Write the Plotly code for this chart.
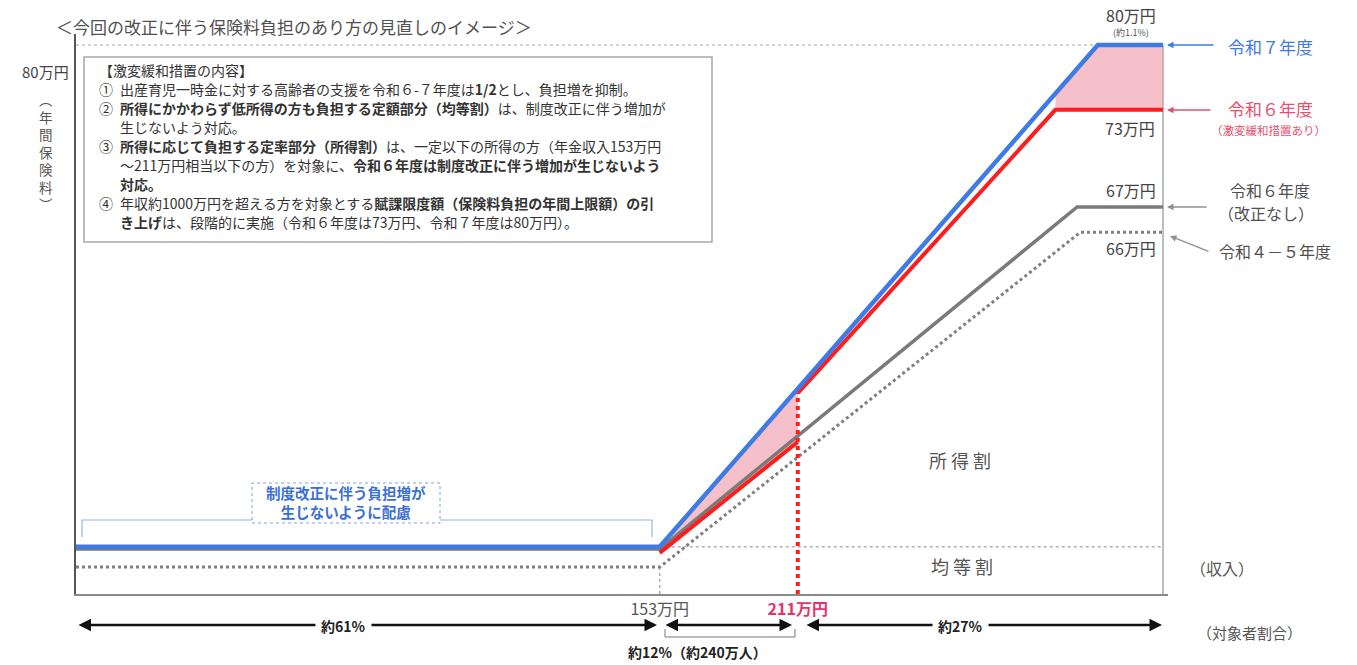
import numpy as np
import plotly.graph_objects as go

W, H = 1357, 665
FONT = "Noto Sans CJK JP"

# ---- data (conceptual scale: x = income position 0-100, y = premium level, 100 = 80万円) ----
x_r7 = [0, 53.7, 94.0, 100]          # 令和7年度
y_r7 = [8.6, 8.6, 100, 100]
x_r6 = [53.7, 66.4, 66.4, 90.1, 100]  # 令和6年度（激変緩和措置あり）
y_r6 = [7.5, 27.7, 36.6, 88.2, 88.2]
x_r6n = [0, 53.7, 92.1, 100]          # 令和6年度（改正なし）
y_r6n = [8.2, 8.2, 70.5, 70.5]
x_r45 = [0, 53.7, 92.4, 100]          # 令和4-5年度
y_r45 = [4.9, 4.9, 65.9, 65.9]

x_153 = 53.7
x_211 = 66.4
tick_vals = [x_153, x_211]
tick_text = ["153万円", "<b><span style='color:#e8336a'>211万円</span></b>"]

BLUE = "#3f7be6"
RED = "#ff1c1c"
GRAY = "#7a7a7a"
PINK = "rgba(238,140,160,0.55)"

fig = go.Figure()

# reference lines
fig.add_trace(go.Scatter(x=[0, 100], y=[100, 100], mode="lines",
                         line=dict(color="#c4c4c4", width=1.5, dash="dot")))
fig.add_trace(go.Scatter(x=[x_153, 100], y=[y_r7[1], y_r7[1]], mode="lines",
                         line=dict(color="#b0b0b0", width=1.5, dash="dot")))
fig.add_trace(go.Scatter(x=[x_153, x_153], y=[0, y_r45[1]], mode="lines",
                         line=dict(color="#b0b0b0", width=1.5, dash="dot")))
fig.add_trace(go.Scatter(x=[100, 100], y=[0, 100], mode="lines",
                         line=dict(color="#a8a8a8", width=1.5)))

# pink fills between 令和7 and 令和6 (激変緩和)
seg1_x = np.array(x_r6[0:2])
seg1_bot = np.array(y_r6[0:2])
seg1_top = np.interp(seg1_x, x_r7, y_r7)
fig.add_trace(go.Scatter(x=list(seg1_x) + list(seg1_x[::-1]),
                         y=list(seg1_top) + list(seg1_bot[::-1]),
                         mode="lines", fill="toself", fillcolor=PINK,
                         line=dict(width=0)))
seg2_x = np.array([x_r6[3]] + [v for v in x_r7 if v > x_r6[3]])
seg2_top = np.interp(seg2_x, x_r7, y_r7)
seg2_bot = np.interp(seg2_x, x_r6[3:], y_r6[3:])
fig.add_trace(go.Scatter(x=list(seg2_x) + list(seg2_x[::-1]),
                         y=list(seg2_top) + list(seg2_bot[::-1]),
                         mode="lines", fill="toself", fillcolor=PINK,
                         line=dict(width=0)))

# series lines
fig.add_trace(go.Scatter(x=x_r45, y=y_r45, mode="lines",
                         line=dict(color="#7f7f7f", width=3, dash="dot")))
fig.add_trace(go.Scatter(x=x_r6n, y=y_r6n, mode="lines",
                         line=dict(color=GRAY, width=3.5)))
# red line drawn in two pieces (the step at 211万円 is shown by the dotted line)
red_x = x_r6[:2] + [None] + x_r6[2:]
red_y = y_r6[:2] + [None] + y_r6[2:]
fig.add_trace(go.Scatter(x=red_x, y=red_y, mode="lines", connectgaps=False,
                         line=dict(color=RED, width=4)))
fig.add_trace(go.Scatter(x=[x_211, x_211], y=[0, y_r6[2]], mode="lines",
                         line=dict(color=RED, width=4, dash="dot")))
fig.add_trace(go.Scatter(x=x_r7, y=y_r7, mode="lines",
                         line=dict(color=BLUE, width=4.5)))


def P(x, y):
    return x / W, 1 - y / H


def T(text, x, y, size=14, color="#444", xanchor="center", **kw):
    px, py = P(x, y)
    d = dict(text=text, x=px, y=py, xref="paper", yref="paper", xanchor=xanchor,
             yanchor="middle", showarrow=False, borderpad=0,
             font=dict(size=size, color=color, family=FONT))
    d.update(kw)
    return d


def A(xh, yh, xt, yt, color, width, both=False):
    px, py = P(xh, yh)
    return dict(x=px, y=py, xref="paper", yref="paper", ax=xt - xh, ay=yt - yh,
                axref="pixel", ayref="pixel", text="", showarrow=True,
                arrowhead=2, startarrowhead=2, arrowsize=1, startarrowsize=1,
                arrowwidth=width, arrowcolor=color,
                arrowside="end+start" if both else "end",
                standoff=0, startstandoff=0)


ann = []
ann.append(T("＜今回の改正に伴う保険料負担のあり方の見直しのイメージ＞", 55, 26, 17, "#505050", "left"))

# note box lines
BS = 14
BC = "#333"
note_y = [70, 89, 108, 127, 146, 165, 184, 203, 222]
ann.append(T("【激変緩和措置の内容】", 98, note_y[0], BS, BC, "left"))
ann.append(T("①", 98, note_y[1], BS, BC, "left"))
ann.append(T("出産育児一時金に対する高齢者の支援を令和６-７年度は<b>1/2</b>とし、負担増を抑制。", 119, note_y[1], BS, BC, "left"))
ann.append(T("②", 98, note_y[2], BS, BC, "left"))
ann.append(T("<b>所得にかかわらず低所得の方も負担する定額部分（均等割）</b>は、制度改正に伴う増加が", 119, note_y[2], BS, BC, "left"))
ann.append(T("生じないよう対応。", 119, note_y[3], BS, BC, "left"))
ann.append(T("③", 98, note_y[4], BS, BC, "left"))
ann.append(T("<b>所得に応じて負担する定率部分（所得割）</b>は、一定以下の所得の方（年金収入153万円", 119, note_y[4], BS, BC, "left"))
ann.append(T("～211万円相当以下の方）を対象に、<b>令和６年度は制度改正に伴う増加が生じないよう</b>", 119, note_y[5], BS, BC, "left"))
ann.append(T("<b>対応。</b>", 119, note_y[6], BS, BC, "left"))
ann.append(T("④", 98, note_y[7], BS, BC, "left"))
ann.append(T("年収約1000万円を超える方を対象とする<b>賦課限度額（保険料負担の年間上限額）の引</b>", 119, note_y[7], BS, BC, "left"))
ann.append(T("<b>き上げ</b>は、段階的に実施（令和６年度は73万円、令和７年度は80万円）。", 119, note_y[8], BS, BC, "left"))

# left axis labels
ann.append(T("80万円", 45, 72, 15, "#444"))
ann.append(T("︵<br>年<br>間<br>保<br>険<br>料<br>︶", 46, 152, 13.5, "#555"))

# blue note
ann.append(T("<b>制度改正に伴う負担増が<br>生じないように配慮</b>", 346, 502, 14.5, "#3a6fd8"))

# right values
ann.append(T("80万円", 1131, 15, 16, "#444"))
ann.append(T("(約1.1%)", 1131, 33, 9, "#555"))
ann.append(T("73万円", 1130, 128, 16, "#444"))
ann.append(T("67万円", 1131, 190, 16, "#444"))
ann.append(T("66万円", 1131, 248, 16, "#444"))

# series labels
ann.append(T("令和７年度", 1270, 46, 17, BLUE))
ann.append(T("令和６年度", 1270, 108, 17, "#e6506e"))
ann.append(T("（激変緩和措置あり）", 1268, 130, 11.5, "#e6506e"))
ann.append(T("令和６年度", 1270, 190, 16, "#505050"))
ann.append(T("（改正なし）", 1266, 213, 16, "#505050"))
ann.append(T("令和４－５年度", 1275, 251, 16, "#505050"))

ann.append(A(1167, 45, 1215, 45, BLUE, 1.3))
ann.append(A(1167, 110, 1212, 110, "#e6506e", 1.3))
ann.append(A(1167, 207, 1208, 207, "#909090", 1.3))
ann.append(A(1170, 236, 1210, 252, "#909090", 1.3))

# region labels
ann.append(T("所 得 割", 960, 460, 18, "#555"))
ann.append(T("均 等 割", 962, 566, 18, "#555"))
ann.append(T("（収入）", 1222, 568, 16, "#555"))
ann.append(T("（対象者割合）", 1249, 632, 15, "#555"))

# bottom arrows
ann.append(A(657, 625, 77, 625, "#111", 2.5, both=True))
ann.append(A(792, 625, 664, 625, "#111", 2.5, both=True))
ann.append(A(1162, 625, 805, 625, "#111", 2.5, both=True))
ann.append(T("<b>約61%</b>", 343, 626, 14, "#222", bgcolor="white", borderpad=5))
ann.append(T("<b>約27%</b>", 960, 626, 14, "#222", bgcolor="white", borderpad=5))
ann.append(T("<b>約12%（約240万人）</b>", 697, 652, 14, "#222"))


def path(points):
    s = ""
    for i, (x, y) in enumerate(points):
        px, py = P(x, y)
        s += ("M" if i == 0 else "L") + f" {px:.5f},{py:.5f} "
    return s


shapes = []
# note box
bx0, by0 = P(84, 242)
bx1, by1 = P(712, 57)
shapes.append(dict(type="rect", xref="paper", yref="paper", x0=bx0, y0=by0, x1=bx1, y1=by1,
                   line=dict(color="#a8a8a8", width=1.5), fillcolor="white", layer="above"))
# blue bracket
shapes.append(dict(type="path", xref="paper", yref="paper",
                   path=path([(82, 537), (82, 520), (652, 520), (652, 537)]),
                   line=dict(color="#9ab4ea", width=1.2)))
# blue note box
nx0, ny0 = P(252, 523)
nx1, ny1 = P(440, 483)
shapes.append(dict(type="rect", xref="paper", yref="paper", x0=nx0, y0=ny0, x1=nx1, y1=ny1,
                   line=dict(color="#7ea2ea", width=1, dash="dot"), fillcolor="white", layer="above"))
# bracket under 約12%
shapes.append(dict(type="path", xref="paper", yref="paper",
                   path=path([(665, 629), (665, 637), (795, 637), (795, 629)]),
                   line=dict(color="#777", width=1)))

x_range = [0, 100.5]
y_range = [0, 102]
left_px, right_px_100 = 76, 1163
bottom_px, top_px_100 = 594, 45
sx = (right_px_100 - left_px) / 100
sy = (bottom_px - top_px_100) / 100
right_px = left_px + x_range[1] * sx
top_px = bottom_px - y_range[1] * sy

fig.update_layout(
    width=W, height=H, margin=dict(l=0, r=0, t=0, b=0),
    paper_bgcolor="white", plot_bgcolor="white", showlegend=False,
    font=dict(family=FONT),
    xaxis=dict(domain=[left_px / W, right_px / W], range=x_range, showgrid=False,
               zeroline=False, showline=True, linecolor="#8a8a8a", linewidth=2,
               tickvals=tick_vals, ticktext=tick_text, ticks="", ticklen=0,
               tickfont=dict(size=16, color="#555", family=FONT), fixedrange=True),
    yaxis=dict(domain=[1 - bottom_px / H, 1 - top_px / H], range=y_range, showgrid=False,
               zeroline=False, showline=True, linecolor="#555", linewidth=2,
               showticklabels=False, ticks="", fixedrange=True),
    annotations=ann, shapes=shapes,
)

fig.write_html("out.html", config={"displayModeBar": False})
